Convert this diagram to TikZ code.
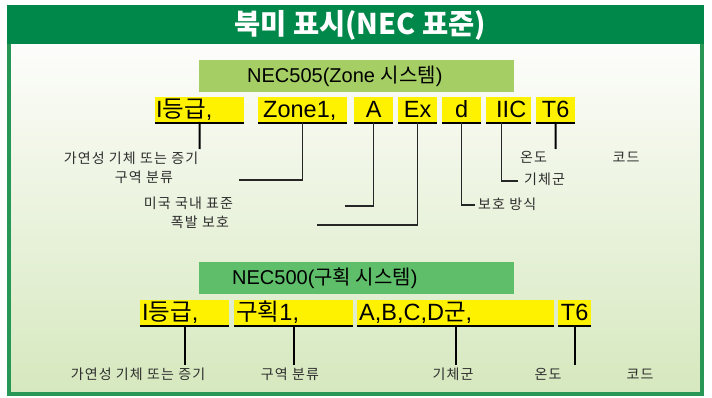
\documentclass[tikz,border=0pt]{standalone}
\usepackage{fontspec}
\setmainfont{Liberation Sans}
\newfontfamily\kr{Noto Sans CJK KR}
\newfontfamily\krl{Noto Sans CJK KR}[LetterSpace=8]
\definecolor{titlegreen}{RGB}{0,136,74}
\definecolor{framegreen}{RGB}{40,150,85}
\definecolor{lblone}{RGB}{165,206,100}
\definecolor{lbltwo}{RGB}{95,190,106}
\definecolor{yel}{RGB}{255,242,0}
\definecolor{txtgray}{RGB}{45,45,45}
\definecolor{bgtop}{RGB}{253,253,251}
\definecolor{bgbot}{RGB}{214,232,190}
\begin{document}
\begin{tikzpicture}[x=1pt,y=-1pt,
  ybox/.style={fill=yel, inner xsep=0pt, inner ysep=4pt, text height=17pt, text depth=0pt,
    font=\fontsize{23.5}{23.5}\selectfont, anchor=south west, minimum height=25pt},
  gbox/.style={inner sep=0pt, minimum height=32pt, minimum width=315pt, text height=13.5pt,
    text depth=0pt, font=\fontsize{20}{20}\selectfont, anchor=north west},
  lbl/.style={font=\krl\fontsize{14}{14}\selectfont, text=txtgray, inner sep=0pt},
  uline/.style={line width=2pt},
  conn/.style={line width=2pt},
  thinconn/.style={line width=1.2pt, draw=black!85}]
\useasboundingbox (0,0) rectangle (712,398);
% background and frame
\shade[top color=bgtop, bottom color=bgbot] (9,44) rectangle (702,394);
\draw[draw=framegreen, line width=4pt] (9,7) rectangle (702,394);
\fill[titlegreen] (7,5) rectangle (704,44);
\node[font=\kr\bfseries\fontsize{28.5}{28.5}\selectfont, text=white] (title) at (360,25) {북미 표시(NEC 표준)};
% label boxes
\node[gbox, fill=lblone] (g1) at (199,60) {\makebox[315pt][l]{\hspace{48pt}NEC505(Zone {\kr 시스템})}};
\node[gbox, fill=lbltwo] (g2) at (199,262) {\makebox[315pt][l]{\hspace{33pt}NEC500({\kr 구획 시스템})}};
% row 1 boxes
\node[ybox] (c1) at (155,122) {\makebox[89pt][l]{\hspace{1pt}I{\kr 등급},}};
\node[ybox] (c2) at (258,122) {\makebox[89pt][l]{\hspace{5pt}Zone1,}};
\node[ybox] (c3) at (354,122) {\makebox[39pt]{A}};
\node[ybox] (c4) at (398,122) {\makebox[39pt]{Ex}};
\node[ybox] (c5) at (442,122) {\makebox[39pt]{d}};
\node[ybox] (c6) at (486,122) {\makebox[45pt][l]{\hspace{10pt}IIC}};
\node[ybox] (c7) at (536,122) {\makebox[39pt]{T6}};
% row 2 boxes
\node[ybox] (d1) at (140,325) {\makebox[89pt][l]{\hspace{2pt}I{\kr 등급},}};
\node[ybox] (d2) at (234,325) {\makebox[119pt][l]{\hspace{2pt}{\kr 구획}1,}};
\node[ybox] (d3) at (357,325) {\makebox[197pt][l]{\hspace{2pt}A,B,C,D{\kr 군},}};
\node[ybox] (d4) at (558,325) {\makebox[33pt]{T6}};
\foreach \n in {c1,c2,c3,c4,c5,c6,c7,d1,d2,d3,d4}
  \draw[uline] ([yshift=-1pt]\n.south west) -- ([yshift=-1pt]\n.south east);
% row 1 labels
\node[lbl] (l1) at (131,158) {가연성 기체 또는 증기};
\node[lbl] (l2) at (144,177) {구역 분류};
\node[lbl] (l3) at (188.5,203) {미국 국내 표준};
\node[lbl] (l4) at (200,222) {폭발 보호};
\node[lbl, anchor=west] (l5) at (478,204) {보호 방식};
\node[lbl, anchor=west] (l6) at (524,179) {기체군};
\node[lbl] (l7) at (533.5,157) {온도};
\node[lbl] (l8) at (626,157) {코드};
% row 2 labels
\node[lbl] (m1) at (138,374) {가연성 기체 또는 증기};
\node[lbl] (m2) at (290,374) {구역 분류};
\node[lbl] (m3) at (453,374) {기체군};
\node[lbl] (m4) at (548,374) {온도};
\node[lbl] (m5) at (640,374) {코드};
% row 1 connectors
\coordinate (e1) at (199.5,149);
\coordinate (e2) at (239,180);
\coordinate (e3) at (345,206);
\coordinate (e4) at (317,225);
\coordinate (e5) at (475,205);
\coordinate (e6) at (518,181);
\coordinate (e7) at (555.5,149);
\draw[conn] (c1.south) -- (e1);
\draw[thinconn] (c2.south) |- (e2);
\draw[thinconn] (c3.south) |- (e3);
\draw[thinconn] (c4.south) |- (e4);
\draw[thinconn] (c5.south) |- (e5);
\draw[thinconn] ([xshift=-7.5pt]c6.south) |- (e6);
\draw[conn] (c7.south) -- (e7);
% row 2 connectors
\coordinate (r2) at (0,365);
\draw[conn] (d1.south) -- (d1.south |- r2);
\draw[conn] (d2.south) -- (d2.south |- r2);
\draw[conn] (d3.south) -- (d3.south |- r2);
\draw[conn] (d4.south) -- (d4.south |- r2);
\end{tikzpicture}
\end{document}
